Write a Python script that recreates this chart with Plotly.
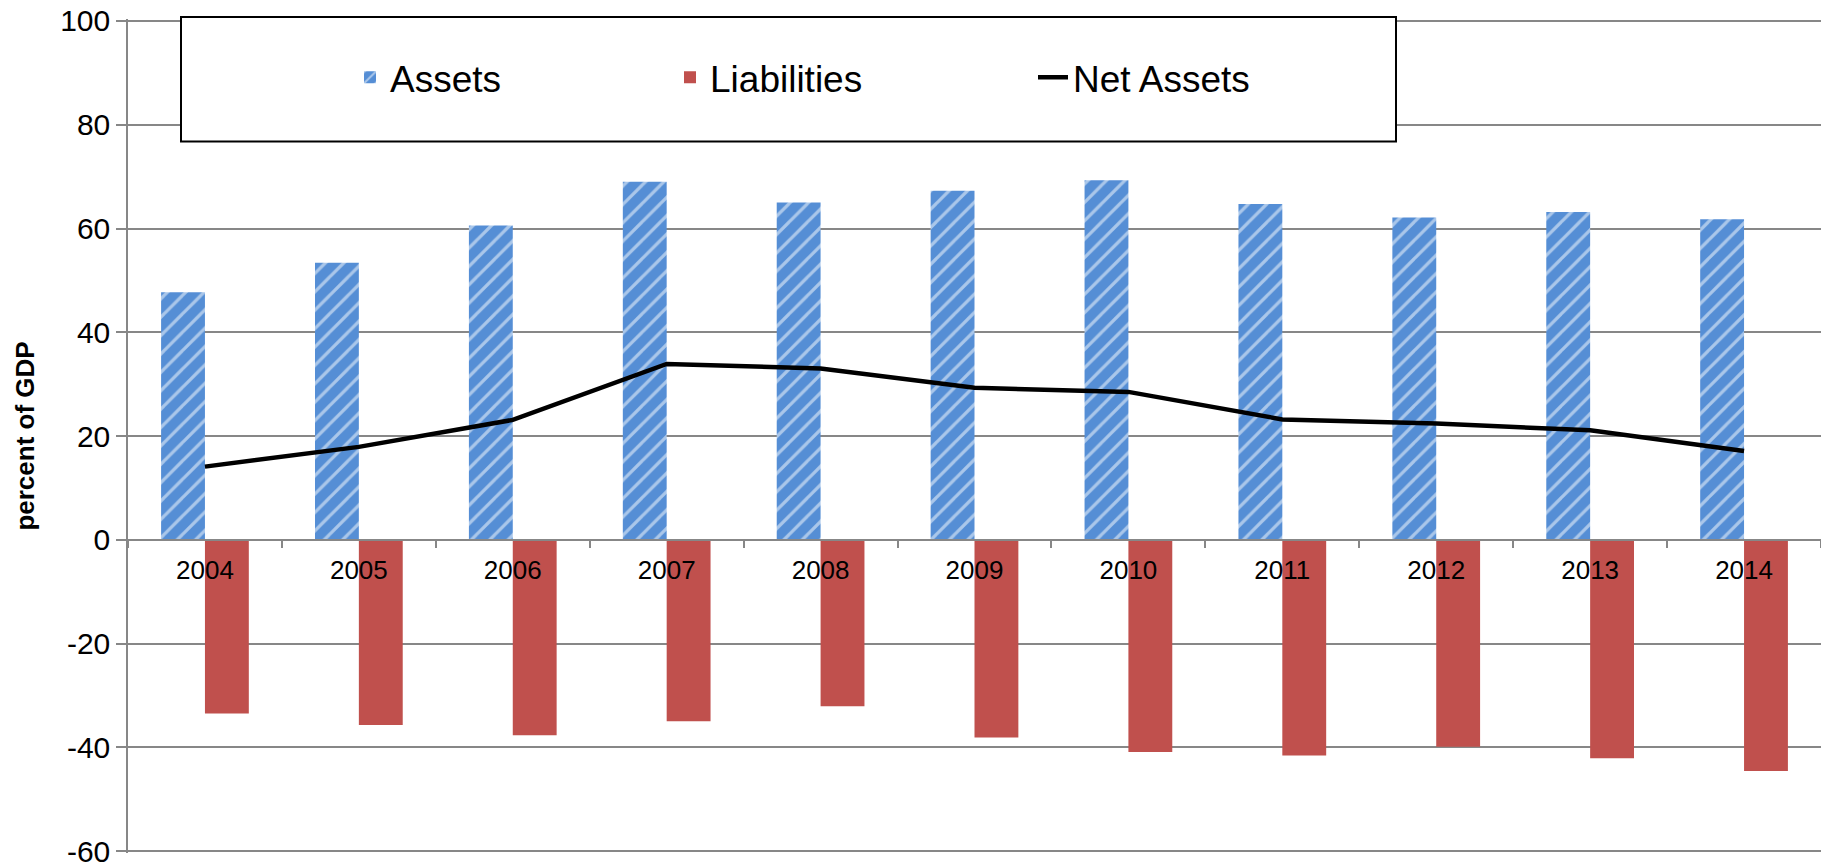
import plotly.graph_objects as go

# Balance sheet, percent of GDP
years = ["2004", "2005", "2006", "2007", "2008", "2009",
         "2010", "2011", "2012", "2013", "2014"]
assets = [47.7, 53.4, 60.6, 69.0, 65.0, 67.3, 69.3, 64.7, 62.1, 63.2, 61.8]
liabilities = [-33.5, -35.7, -37.7, -35.0, -32.1, -38.1, -40.9, -41.6, -39.9, -42.1, -44.6]
net_assets = [14.1, 17.9, 23.1, 33.9, 33.0, 29.3, 28.5, 23.2, 22.4, 21.1, 17.1]

y_ticks = [-60, -40, -20, 0, 20, 40, 60, 80, 100]
y_tick_text = ["-60", "-40", "-20", "0", "20", "40", "60", "80", "100"]

FONT = "Arial, Liberation Sans, sans-serif"
GRID = "#878787"
BLUE = "#558ED5"
RED = "#C0504D"

fig = go.Figure()

fig.add_trace(go.Bar(
    x=years, y=assets, name="Assets", legend="legend", showlegend=True,
    marker=dict(color=BLUE, line=dict(width=0),
                pattern=dict(shape="/", fgcolor="white", bgcolor=BLUE,
                             size=13, solidity=0.25)),
))
fig.add_trace(go.Bar(
    x=years, y=liabilities, name="Liabilities", legend="legend2", showlegend=True,
    marker=dict(color=RED, line=dict(width=0)),
))
fig.add_trace(go.Scatter(
    x=years, y=net_assets, name="Net Assets", legend="legend3", showlegend=True,
    mode="lines", line=dict(color="black", width=4.5),
))

W, H = 1821, 868
# the value range is padded by a couple of pixels so the end gridlines stay drawn
PAD_PX = 2
UNIT_PX = 833 / 160
ML, MR, MT, MB = 128, 0, 21 - PAD_PX, 14 - PAD_PX
PW = W - ML - MR
PH = H - MT - MB
y_lo = -60 - PAD_PX / UNIT_PX
y_hi = 100 + PAD_PX / UNIT_PX


def px_x(x):
    return (x - ML) / PW


def px_y(y):
    return 1 - (y - MT) / PH


leg_common = dict(orientation="h", font=dict(family=FONT, size=37, color="black"),
                  bgcolor="rgba(0,0,0,0)", borderwidth=0,
                  xanchor="left", yanchor="middle", y=px_y(78))

fig.update_layout(
    width=W, height=H,
    margin=dict(l=ML, r=MR, t=MT, b=MB, pad=0),
    paper_bgcolor="white", plot_bgcolor="white",
    font=dict(family=FONT, color="black"),
    showlegend=True,
    barmode="group", bargap=0.43, bargroupgap=0,
    legend=dict(x=px_x(350), **leg_common),
    legend2=dict(x=px_x(670), **leg_common),
    legend3=dict(x=px_x(1033), **leg_common),
    shapes=[dict(type="rect", xref="paper", yref="paper",
                 x0=px_x(181), x1=px_x(1396), y0=px_y(142), y1=px_y(17),
                 line=dict(color="black", width=2), fillcolor="white",
                 layer="above")],
)

fig.update_yaxes(
    range=[y_lo, y_hi],
    tickmode="array", tickvals=y_ticks, ticktext=y_tick_text,
    showgrid=True, gridcolor=GRID, gridwidth=1.5,
    zeroline=False,
    showline=True, linecolor=GRID, linewidth=1.5,
    ticks="outside", ticklen=10, tickcolor=GRID, tickwidth=1.5,
    ticklabeloverflow="allow",
    tickfont=dict(family=FONT, size=30, color="black"),
    title=dict(text="<b>percent of GDP</b>", standoff=18,
               font=dict(family=FONT, size=26, color="black")),
)

fig.update_xaxes(
    type="category",
    anchor="free", position=(0 - y_lo) / (y_hi - y_lo),
    showgrid=False, zeroline=False,
    showline=True, linecolor=GRID, linewidth=1.5,
    ticks="outside", tickson="boundaries", ticklen=7,
    tickcolor=GRID, tickwidth=1.5,
    ticklabelstandoff=7,
    tickfont=dict(family=FONT, size=26, color="black"),
)

fig.write_html("out.html")
